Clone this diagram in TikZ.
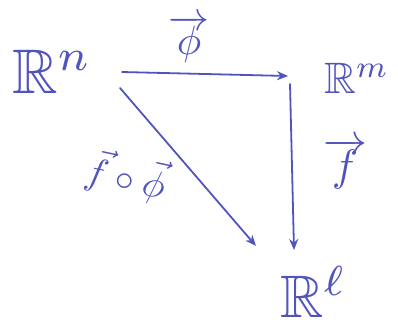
\documentclass[tikz,border=0pt]{standalone}
\usepackage{amssymb}
\usepackage{graphicx}
\usetikzlibrary{arrows.meta}
\definecolor{pen}{RGB}{82,84,190}
\tikzset{
  lbl/.style={inner sep=0pt, text=pen},
  arr/.style={draw=pen, line width=1.8pt, line cap=round, -{Stealth[length=11pt,width=9pt]}}
}
\begin{document}
\begin{tikzpicture}[x=1pt,y=-1pt]
\useasboundingbox (0,0) rectangle (398,325);
\node[lbl, anchor=base west] (Rn) at (12,93) {\scalebox{6.3}{$\mathbb{R}^n$}};
\node[lbl, anchor=base west] (Rm) at (324,93) {\scalebox{4.4}{$\mathbb{R}^m$}};
\node[lbl, anchor=base west] (Rl) at (280,317) {\scalebox{6}{$\mathbb{R}^\ell$}};
\node[lbl] (phi) at (189,39) {\scalebox{4.1}{$\overrightarrow{\phi}$}};
\node[lbl] (f) at (345,164) {\scalebox{4.4}{$\overrightarrow{f}$}};
\node[lbl, rotate=-12] (fphi) at (126,176) {\scalebox{3.8}{$\vec{f}\circ\vec{\phi}$}};
\coordinate (a1) at (122,72);
\coordinate (a2) at (288,76);
\coordinate (b1) at (120,88);
\coordinate (b2) at (256,246);
\coordinate (c1) at (290,84);
\coordinate (c2) at (294,250);
\draw[arr] (a1) -- (a2);
\draw[arr] (b1) -- (b2);
\draw[arr] (c1) -- (c2);
\end{tikzpicture}
\end{document}
